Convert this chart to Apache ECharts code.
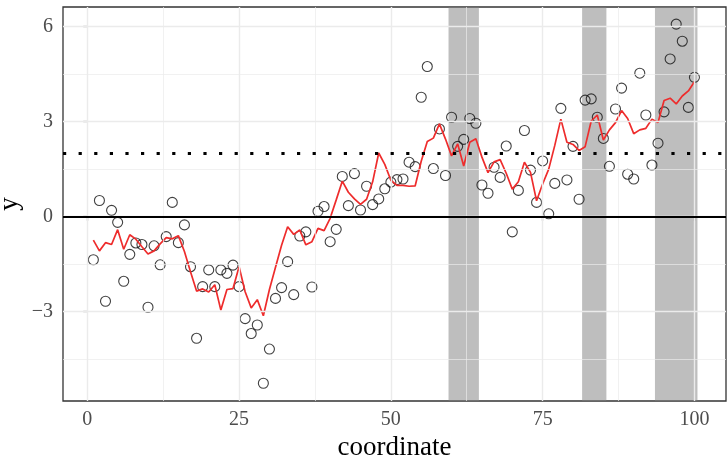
<!DOCTYPE html>
<html>
<head>
<meta charset="utf-8">
<script src="https://cdn.jsdelivr.net/npm/echarts@6/dist/echarts.min.js"></script>
<style>html,body{margin:0;padding:0;background:#fff}#c{width:727px;height:458px}</style>
</head>
<body>
<div id="c"></div>
<script>
// observed values at coordinate 1..100
const pointValues = [
 -1.36, 0.51, -2.67, 0.20, -0.18, -2.04, -1.19, -0.83, -0.88, -2.86,
 -0.92, -1.52, -0.63, 0.45, -0.82, -0.26, -1.58, -3.84, -2.21, -1.68,
 -2.21, -1.68, -1.79, -1.53, -2.21, -3.22, -3.69, -3.42, -5.26, -4.18,
 -2.58, -2.24, -1.42, -2.46, -0.61, -0.48, -2.22, 0.17, 0.32, -0.79,
 -0.40, 1.27, 0.35, 1.36, 0.21, 0.96, 0.38, 0.56, 0.88, 1.09,
 1.17, 1.19, 1.72, 1.58, 3.77, 4.74, 1.52, 2.77, 1.30, 3.14,
 2.22, 2.44, 3.10, 2.95, 1.00, 0.74, 1.56, 1.24, 2.23, -0.48,
 0.83, 2.72, 1.47, 0.45, 1.76, 0.09, 1.05, 3.42, 1.16, 2.22,
 0.55, 3.68, 3.72, 3.14, 2.47, 1.59, 3.40, 4.06, 1.34, 1.19,
 4.53, 3.21, 1.63, 2.32, 3.31, 4.98, 6.08, 5.54, 3.45, 4.40
];
// estimated (red) curve at coordinate 1..100
const estimateValues = [
 -0.74, -1.08, -0.82, -0.88, -0.41, -1.03, -0.57, -0.71, -0.95, -1.18,
 -1.08, -0.86, -0.66, -0.70, -0.60, -1.10, -1.74, -2.35, -2.28, -2.38,
 -2.15, -2.95, -2.30, -2.27, -1.58, -2.37, -2.88, -2.62, -3.13, -2.30,
 -1.60, -0.90, -0.32, -0.56, -0.42, -0.89, -0.79, -0.37, -0.44, -0.05,
 0.53, 1.12, 0.77, 0.56, 0.39, 0.55, 1.10, 2.01, 1.65, 1.15,
 0.99, 0.99, 0.96, 0.97, 1.75, 2.37, 2.48, 2.93, 2.45, 1.92,
 2.30, 1.60, 2.35, 2.46, 1.88, 1.39, 1.73, 1.80, 1.37, 0.87,
 1.10, 1.72, 1.40, 0.50, 1.03, 1.50, 2.25, 3.08, 2.35, 2.28,
 2.09, 2.21, 3.02, 3.21, 2.42, 2.74, 2.97, 3.35, 3.10, 2.62,
 2.74, 2.79, 3.08, 2.97, 3.67, 3.74, 3.56, 3.81, 3.97, 4.26
];
// shaded regions [start, end]
const bands = [[59.5, 64.5], [81.5, 85.5], [93.5, 100.5]];
const thresholdValue = 2;
const baselineValue = 0;
const xTicks = [0, 25, 50, 75, 100];
const xMinorTicks = [12.5, 37.5, 62.5, 87.5];
const yTicks = [-3, 0, 3, 6];
const yMinorTicks = [-4.5, -1.5, 1.5, 4.5];

const FONT = 'Liberation Serif';
const chart = echarts.init(document.getElementById('c'), null, {renderer: 'canvas'});

const pts = pointValues.map((v, i) => [i + 1, v]);
const est = estimateValues.map((v, i) => [i + 1, v]);

const gridLines = [];
xTicks.forEach(v => gridLines.push({xAxis: v, lineStyle: {color: '#ebebeb', width: 1.4, type: 'solid'}}));
xMinorTicks.forEach(v => gridLines.push({xAxis: v, lineStyle: {color: '#ebebeb', width: 0.7, type: 'solid'}}));
yTicks.forEach(v => gridLines.push({yAxis: v, lineStyle: {color: '#ebebeb', width: 1.4, type: 'solid'}}));
yMinorTicks.forEach(v => gridLines.push({yAxis: v, lineStyle: {color: '#ebebeb', width: 0.7, type: 'solid'}}));

const fmt = v => (v < 0 ? '\u2212' + Math.abs(v) : String(v));

chart.setOption({
  animation: false,
  backgroundColor: '#fff',
  grid: {left: 63, right: 1, top: 7, bottom: 57, containLabel: false, outerBoundsMode: 'none',
    show: true, borderColor: '#333', borderWidth: 1.3, backgroundColor: '#fff'},
  xAxis: {
    type: 'value', min: -4.0, max: 105.2,
    axisLine: {show: false},
    splitLine: {show: false},
    axisTick: {show: true, length: 4, customValues: xTicks, lineStyle: {color: '#333', width: 1.2}},
    axisLabel: {customValues: xTicks, formatter: fmt, margin: 9, fontFamily: FONT, fontSize: 20, color: '#4d4d4d'},
    name: 'coordinate', nameLocation: 'middle', nameGap: 28,
    nameTextStyle: {fontFamily: FONT, fontSize: 27, color: '#000'}
  },
  yAxis: {
    type: 'value', min: -5.82, max: 6.62,
    axisLine: {show: false},
    splitLine: {show: false},
    axisTick: {show: true, length: 4, customValues: yTicks, lineStyle: {color: '#333', width: 1.2}},
    axisLabel: {customValues: yTicks, formatter: fmt, margin: 10, fontFamily: FONT, fontSize: 20, color: '#4d4d4d'},
    name: 'y', nameLocation: 'middle', nameGap: 40, nameRotate: 90, nameMoveOverlap: false,
    nameTextStyle: {fontFamily: FONT, fontSize: 27, color: '#000'}
  },
  series: [
    {
      type: 'line', data: [], z: 0, silent: true,
      markLine: {silent: true, symbol: 'none', label: {show: false}, data: gridLines}
    },
    {
      type: 'line', data: [], z: 1, silent: true,
      markArea: {silent: true, itemStyle: {color: 'rgba(125,125,125,0.5)'},
        data: bands.map(b => [{xAxis: b[0]}, {xAxis: b[1]}])}
    },
    {
      type: 'line', data: [], z: 2, silent: true,
      markLine: {silent: true, symbol: 'none', label: {show: false}, data: [
        {yAxis: baselineValue, lineStyle: {color: '#000', width: 1.8, type: 'solid'}},
        {yAxis: thresholdValue, lineStyle: {color: '#000', width: 3.2, type: [3.2, 12.4], cap: 'butt'}}
      ]}
    },
    {
      type: 'scatter', data: pts, z: 3, symbol: 'circle', symbolSize: 10,
      itemStyle: {color: 'rgba(255,255,255,0)', borderColor: '#111', borderWidth: 1.1}
    },
    {
      type: 'line', data: est, z: 4, symbol: 'none',
      lineStyle: {color: '#ee2c2c', width: 1.7}
    }
  ]
});
</script>
</body>
</html>
